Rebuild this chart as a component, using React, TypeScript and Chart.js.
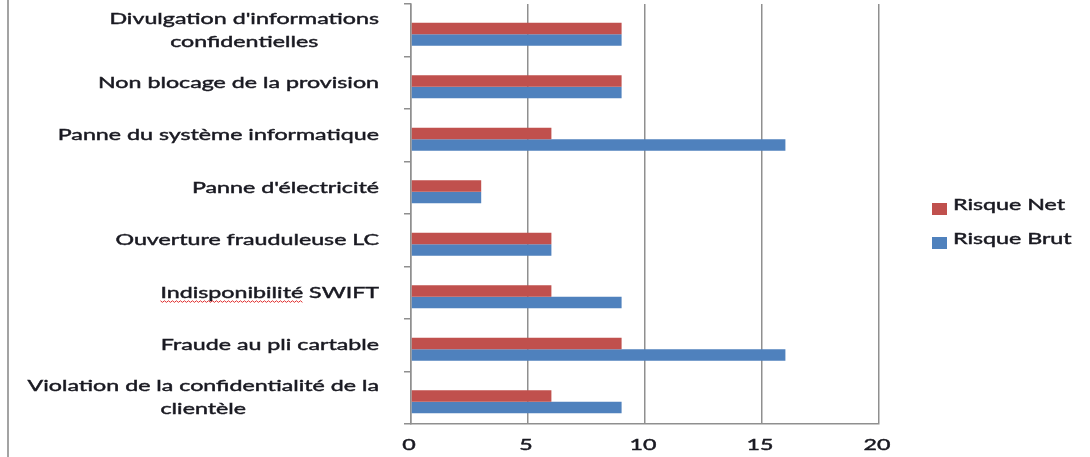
import React, { useEffect, useRef } from 'react';
import { Chart, registerables } from 'chart.js';

Chart.register(...registerables);

const categories: (string | string[])[] = [
  ["Divulgation d'informations", 'confidentielles'],
  'Non blocage de la provision',
  'Panne du système informatique',
  "Panne d'électricité",
  'Ouverture frauduleuse LC',
  'Indisponibilité SWIFT',
  'Fraude au pli cartable',
  ['Violation de la confidentialité de la', 'clientèle'],
];
const risqueNet = [9, 9, 6, 3, 6, 6, 9, 6];
const risqueBrut = [9, 9, 16, 3, 6, 9, 16, 9];
const xTicks = [0, 5, 10, 15, 20];
const seriesNames = ['Risque Net', 'Risque Brut'];
const seriesColors = ['#C0504D', '#4F81BD'];
const underlinedWord = 'Indisponibilité';

const FONT = '16px Lato';
const TEXT_COLOR = '#1a1a22';
const AXIS_COLOR = '#8f8f8f';

function stretchFactor(ctx: CanvasRenderingContext2D) {
  ctx.font = FONT;
  const w = ctx.measureText('Non blocage de la provision').width;
  return 281 / w;
}

function drawStretched(ctx: CanvasRenderingContext2D, text: string, x: number, y: number, sx: number, align: CanvasTextAlign) {
  ctx.save();
  ctx.translate(x, y);
  ctx.scale(sx, 1);
  ctx.textAlign = align;
  ctx.lineWidth = 0.45;
  ctx.strokeStyle = ctx.fillStyle as string;
  ctx.fillText(text, 0, 0);
  ctx.strokeText(text, 0, 0);
  ctx.restore();
}

const customText = {
  id: 'customText',
  beforeDraw(chart: any) {
    const ctx = chart.ctx as CanvasRenderingContext2D;
    ctx.save();
    ctx.strokeStyle = '#a3a3a3';
    ctx.lineWidth = 2;
    ctx.beginPath();
    ctx.moveTo(8, 0);
    ctx.lineTo(8, chart.height);
    ctx.stroke();
    ctx.restore();
  },
  beforeDatasetsDraw(chart: any) {
    chart.ctx.save();
    chart.ctx.translate(0, 4);
  },
  afterDatasetsDraw(chart: any) {
    chart.ctx.restore();
  },
  afterDraw(chart: any) {
    const ctx = chart.ctx as CanvasRenderingContext2D;
    const sx = stretchFactor(ctx);
    const yScale = chart.scales.y;
    const xScale = chart.scales.x;
    ctx.save();
    ctx.font = FONT;
    ctx.fillStyle = TEXT_COLOR;
    ctx.textBaseline = 'middle';
    const right = 379;
    const lh = 23;
    categories.forEach((lab, i) => {
      const lines = Array.isArray(lab) ? lab : [lab];
      const widths = lines.map((l) => ctx.measureText(l).width * sx);
      const bw = Math.max(...widths);
      const cx = right - bw / 2;
      const yc = yScale.getPixelForValue(i);
      lines.forEach((l, j) => {
        const y = yc + (j - (lines.length - 1) / 2) * lh;
        drawStretched(ctx, l, cx, y, sx, 'center');
        if (l.startsWith(underlinedWord)) {
          const x0 = cx - (ctx.measureText(l).width * sx) / 2;
          const x1 = x0 + ctx.measureText(underlinedWord).width * sx;
          const uy = y + 8;
          ctx.save();
          ctx.strokeStyle = '#e03030';
          ctx.lineWidth = 1;
          ctx.beginPath();
          for (let x = x0, k = 0; x <= x1; x += 2, k++) {
            const yy = uy + (k % 2 === 0 ? 0 : 1.6);
            if (k === 0) ctx.moveTo(x, yy);
            else ctx.lineTo(x, yy);
          }
          ctx.stroke();
          ctx.restore();
        }
      });
    });
    // x tick labels
    const ty = chart.chartArea.bottom + 21;
    xTicks.forEach((v) => {
      drawStretched(ctx, String(v), xScale.getPixelForValue(v) - 2, ty, sx, 'center');
    });
    // legend
    const lx = 932;
    const rows = [205, 239];
    seriesNames.forEach((name, i) => {
      ctx.fillStyle = seriesColors[i];
      ctx.fillRect(lx, rows[i] - 2, 15, 12);
      ctx.fillStyle = TEXT_COLOR;
      drawStretched(ctx, name, 953, rows[i], sx, 'left');
    });
    ctx.restore();
  },
};

export default function App() {
  const ref = useRef<HTMLCanvasElement | null>(null);
  useEffect(() => {
    document.body.style.margin = '0';
    if (!ref.current) return;
    const chart = new Chart(ref.current, {
      type: 'bar',
      data: {
        labels: categories as any,
        datasets: [
          { label: seriesNames[0], data: risqueNet, backgroundColor: seriesColors[0], categoryPercentage: 0.44, barPercentage: 1 },
          { label: seriesNames[1], data: risqueBrut, backgroundColor: seriesColors[1], categoryPercentage: 0.44, barPercentage: 1 },
        ],
      },
      options: {
        indexAxis: 'y',
        animation: false,
        responsive: true,
        maintainAspectRatio: false,
        layout: { padding: { left: 0, right: 211, top: 4, bottom: 0 } },
        plugins: { legend: { display: false }, tooltip: { enabled: false } },
        scales: {
          x: {
            type: 'linear',
            min: 0,
            max: 20,
            ticks: { stepSize: 5, display: false },
            grid: { color: AXIS_COLOR, lineWidth: 1.5, drawTicks: false },
            border: { color: AXIS_COLOR, width: 1.5 },
            afterFit: (s: any) => { s.height = 33; },
          },
          y: {
            type: 'category',
            ticks: { display: false },
            grid: { drawOnChartArea: false, drawTicks: true, tickLength: 7, color: AXIS_COLOR, lineWidth: 1.5, offset: true },
            border: { color: AXIS_COLOR, width: 1.5 },
            afterFit: (s: any) => { s.width = 411; },
          },
        },
      } as any,
      plugins: [customText],
    });
    return () => chart.destroy();
  }, []);
  return (
    <div style={{ position: 'relative', width: '1090px', height: '457px', background: '#fff' }}>
      <canvas ref={ref} />
    </div>
  );
}
